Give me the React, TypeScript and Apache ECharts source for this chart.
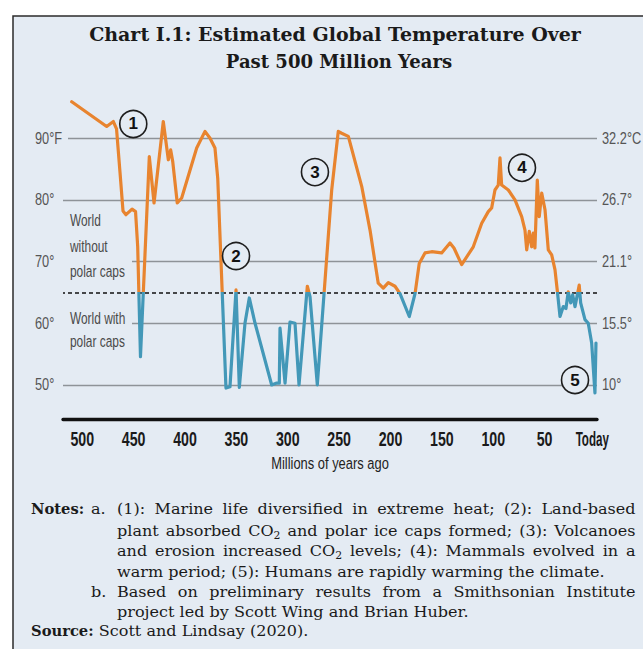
import React, { useEffect, useRef } from "react";
import * as echarts from "echarts";

// ---------- data ----------
const xTickValues = [500, 450, 400, 350, 300, 250, 200, 150, 100, 50, 0];
const fahrenheitTicks = [50, 60, 70, 80, 90];
const fahrenheitLabels = ["50°", "60°", "70°", "80°", "90°F"];
const celsiusLabels = ["10°", "15.5°", "21.1°", "26.7°", "32.2°C"];
const polarCapThresholdF = 65;

// millions of years ago
const myaValues = [
  510.2, 476.2, 469.7, 466.6, 463.2, 460.3, 457.4, 451.5, 448.1, 446.0,
  443.3, 434.7, 430.1, 421.1, 416.2, 413.9, 411.9, 407.5, 403.2, 388.6,
  380.5, 375.6, 370.8, 368.1, 360.1, 356.2, 350.3, 347.1, 341.6, 337.4,
  331.8, 315.6, 310.7, 308.2, 307.5, 302.6, 297.8, 292.9, 289.0, 280.9,
  278.3, 271.2, 257.2, 250.8, 247.5, 241.0, 228.0, 219.9, 211.9, 207.0,
  202.1, 195.6, 190.7, 181.7, 176.1, 172.0, 166.4, 159.9, 150.2, 142.1,
  138.2, 130.7, 119.4, 111.2, 104.8, 101.5, 98.3, 95.1, 93.4, 91.8,
  85.3, 78.8, 72.3, 69.1, 67.4, 64.9, 62.6, 61.0, 59.4, 57.1,
  55.2, 52.8, 49.6, 46.4, 43.1, 39.9, 37.7, 35.0, 31.8, 29.2,
  27.0, 24.6, 22.7, 20.4, 16.3, 14.9, 10.7, 7.5, 4.2, 1.0,
  0.0,
];
// estimated global temperature, °F
const tempF = [
  95.9, 91.9, 92.7, 91.5, 84.4, 78.2, 77.6, 78.5, 78.1, 72.4,
  54.6, 87.0, 79.5, 92.7, 86.5, 88.1, 86.2, 79.5, 80.3, 88.4,
  91.1, 90.0, 88.4, 83.5, 49.5, 49.7, 65.4, 49.6, 60.0, 64.1,
  60.0, 50.0, 50.3, 50.3, 59.2, 50.3, 60.2, 60.0, 50.0, 66.0,
  64.3, 50.0, 81.6, 91.1, 90.8, 90.3, 82.2, 75.1, 66.5, 65.7,
  66.6, 66.0, 64.8, 61.1, 64.8, 69.7, 71.4, 71.6, 71.4, 73.0,
  72.2, 69.5, 72.4, 76.2, 78.1, 78.7, 81.6, 82.4, 86.8, 82.4,
  81.6, 80.0, 77.3, 75.1, 71.9, 74.9, 72.4, 74.6, 72.2, 83.2,
  77.3, 81.1, 78.4, 71.9, 71.1, 68.7, 65.4, 61.1, 62.7, 62.4,
  65.1, 63.3, 64.6, 62.7, 66.2, 63.3, 60.6, 60.0, 56.8, 48.7,
  56.8,
];

const annotationLabels = ["1", "2", "3", "4", "5"];
const annotationMya = [450.3, 350.3, 273.5, 72.0, 20.4];
const annotationTempF = [92.3, 70.9, 84.5, 85.2, 50.8];

const titleLines = [
  "Chart I.1: Estimated Global Temperature Over",
  "Past 500 Million Years",
];
const regionLabelTop = "World\nwithout\npolar caps";
const regionLabelBottom = "World with\npolar caps";
const xAxisName = "Millions of years ago";

const notesA = [
  "(1): Marine life diversified in extreme heat; (2): Land-based",
  "plant absorbed CO_2 and polar ice caps formed; (3): Volcanoes",
  "and erosion increased CO_2 levels; (4): Mammals evolved in a",
  "warm period; (5): Humans are rapidly warming the climate.",
];
const notesB = [
  "Based on preliminary results from a Smithsonian Institute",
  "project led by Scott Wing and Brian Huber.",
];
const sourceText = "Scott and Lindsay (2020).";

// ---------- styles ----------
const BG = "#e4ebf3";
const ORANGE = "#e8842f";
const BLUE = "#4398b8";
const GRID_GRAY = "#8e9398";
const SANS = "'Liberation Sans', Arial, sans-serif";
const SERIF = "'DejaVu Serif', serif";
const NOTE_SIZE = 15.5;
const NOTE_SCALE = 1.035;
const BOLD_SCALE = 0.95;
const SUB_SIZE = 10.5;
const INK = "#1a1a1a";

let measureCtx: CanvasRenderingContext2D | null = null;
function measure(text: string, size: number, bold = false, scale = NOTE_SCALE) {
  if (!measureCtx) measureCtx = document.createElement("canvas").getContext("2d");
  measureCtx!.font = `${bold ? "bold " : ""}${size}px 'DejaVu Serif'`;
  return measureCtx!.measureText(text).width * scale;
}

function wordWidth(w: string) {
  if (w.includes("_")) {
    const [main, sub] = w.split("_");
    return measure(main, NOTE_SIZE) + measure(sub, SUB_SIZE);
  }
  return measure(w, NOTE_SIZE);
}

const noteBase = { fontSize: NOTE_SIZE, fontFamily: SERIF, fill: INK, verticalAlign: "middle", align: "left" };

function noteText(x: number, y: number, style: any, scale = NOTE_SCALE) {
  return { type: "text", x, y, z: 6, silent: true, scaleX: scale, style: { ...noteBase, ...style } };
}

function pushWord(w: string, x: number, y: number, els: any[]) {
  if (w.includes("_")) {
    const [main, sub] = w.split("_");
    els.push(noteText(x, y, { text: main }));
    els.push(noteText(x + measure(main, NOTE_SIZE), y + 5, { fontSize: SUB_SIZE, text: sub }));
  } else {
    els.push(noteText(x, y, { text: w }));
  }
}

function layoutLine(text: string, x0: number, x1: number, y: number, justify: boolean, els: any[]) {
  const words = text.split(" ");
  const widths = words.map(wordWidth);
  const total = widths.reduce((a, b) => a + b, 0);
  const gap = justify && words.length > 1 ? (x1 - x0 - total) / (words.length - 1) : measure(" ", NOTE_SIZE);
  let x = x0;
  words.forEach((w, i) => {
    pushWord(w, x, y, els);
    x += widths[i] + gap;
  });
}

function buildNotes() {
  const els: any[] = [];
  const leadX = 31;
  const markX = 91;
  const textX = 117;
  const rightX = 635.5;
  const baselines = [514, 535.5, 556, 576.5, 596.5, 616.5, 636];
  const mid = (b: number) => b - NOTE_SIZE * 0.346;
  els.push(noteText(leadX, mid(baselines[0]), { fontWeight: "bold", text: "Notes:" }, BOLD_SCALE));
  els.push(noteText(markX, mid(baselines[0]), { text: "a." }));
  notesA.forEach((line, i) => layoutLine(line, textX, rightX, mid(baselines[i]), i < notesA.length - 1, els));
  els.push(noteText(markX, mid(baselines[4]), { text: "b." }));
  notesB.forEach((line, i) => layoutLine(line, textX, rightX, mid(baselines[4 + i]), i < notesB.length - 1, els));
  const srcW = measure("Source:", NOTE_SIZE, true, BOLD_SCALE);
  els.push(noteText(leadX, mid(baselines[6]), { fontWeight: "bold", text: "Source:" }, BOLD_SCALE));
  els.push(noteText(leadX + srcW + measure(" ", NOTE_SIZE), mid(baselines[6]), { text: sourceText }));
  return els;
}

export default function App() {
  const ref = useRef<HTMLDivElement>(null);

  useEffect(() => {
    if (!ref.current) return;
    const chart = echarts.init(ref.current, undefined, { renderer: "svg" });

    const lineData = myaValues.map((t, i) => [t, tempF[i]]);
    const annData = annotationMya.map((t, i) => ({ value: [t, annotationTempF[i]], name: annotationLabels[i] }));

    const yMin = 44.5;
    const yMax = 97;

    chart.setOption({
      animation: false,
      backgroundColor: "#ffffff",
      grid: { left: 63, right: 46, top: 95, bottom: 230.1, containLabel: false },
      xAxis: {
        type: "value", inverse: true, min: -1, max: 518.7, z: 3,
        axisLine: { show: true, lineStyle: { color: "#111", width: 3.3 } },
        axisTick: { show: false },
        splitLine: { show: false },
        axisLabel: { show: false },
      },
      yAxis: [
        {
          type: "value", min: yMin, max: yMax, position: "left", z: 3,
          axisLine: { show: false }, axisTick: { show: false }, splitLine: { show: false },
          axisLabel: { show: false },
        },
        {
          type: "value", min: yMin, max: yMax, position: "right", z: 3,
          axisLine: { show: false }, axisTick: { show: false }, splitLine: { show: false },
          axisLabel: { show: false },
        },
      ],
      visualMap: {
        show: false, type: "piecewise", seriesIndex: 1, dimension: 1,
        pieces: [
          { gt: 20, lte: polarCapThresholdF, color: BLUE },
          { gt: polarCapThresholdF, lte: 120, color: ORANGE },
        ],
      },
      series: [
        {
          type: "line", data: lineData, z: 1, silent: true, symbol: "none", showSymbol: false,
          lineStyle: { opacity: 0, width: 0 },
          markLine: {
            z: 1, silent: true, symbol: ["none", "none"], animation: false,
            label: { show: false },
            data: [
              ...fahrenheitTicks.map((v) => ({ yAxis: v, lineStyle: { color: GRID_GRAY, width: 1.4, type: "solid" } })),
              { yAxis: polarCapThresholdF, lineStyle: { color: "#111", width: 1.5, type: [4, 3] } },
            ],
          },
        },
        {
          type: "line", data: lineData, z: 4, showSymbol: false, symbol: "none",
          lineStyle: { width: 3.2, join: "round", cap: "round" },
          silent: true,
        },
        {
          type: "scatter", data: annData, z: 5, symbol: "circle", symbolSize: 27, silent: true,
          itemStyle: { color: BG, borderColor: "#1e1e1e", borderWidth: 1.6, opacity: 1 },
          label: {
            show: true, position: "inside", formatter: (p: any) => p.name,
            fontFamily: SANS, fontSize: 17, fontWeight: "bold", color: "#111",
          },
        },
      ],
    });

    // condensed tick labels and axis title placed through the axes' scales
    const axisY = chart.convertToPixel({ yAxisIndex: 0 }, yMin) as number;
    const x0 = chart.convertToPixel({ xAxisIndex: 0 }, 518.7) as number;
    const x1 = chart.convertToPixel({ xAxisIndex: 0 }, -1) as number;
    const tickLabels = xTickValues.map((v) => {
      const px = chart.convertToPixel({ xAxisIndex: 0 }, v) as number;
      const isToday = v === 0;
      return {
        type: "text", x: isToday ? px - 3.7 : px, y: axisY + 20, z: 6, silent: true,
        scaleX: isToday ? 0.58 : 0.71,
        style: {
          text: isToday ? "Today" : String(v), fontFamily: SANS, fontSize: 20, fontWeight: "bold",
          fill: INK, align: "center", verticalAlign: "middle",
        },
      };
    });
    const yTickLabels: any[] = [];
    fahrenheitTicks.forEach((v, i) => {
      const py = chart.convertToPixel({ yAxisIndex: 0 }, v) as number;
      const common = { fontFamily: SANS, fontSize: 16, fill: "#555", align: "left", verticalAlign: "middle" };
      yTickLabels.push({ type: "text", x: x0 - 28, y: py, z: 6, silent: true, scaleX: 0.8, style: { ...common, text: fahrenheitLabels[i] } });
      yTickLabels.push({ type: "text", x: x1 + 5, y: py, z: 6, silent: true, scaleX: 0.8, style: { ...common, text: celsiusLabels[i] } });
    });
    const y90 = chart.convertToPixel({ yAxisIndex: 0 }, 90) as number;

    const graphics: any[] = [
      {
        type: "rect", z: 0, silent: true,
        shape: { x: 13, y: 16, width: 660, height: 660 },
        style: { fill: BG, stroke: "#2b2b2b", lineWidth: 1.5 },
      },
      {
        type: "text", x: 335, y: 41 - 19 * 0.346, z: 6,
        style: { text: titleLines[0], fontSize: 19, fontWeight: "bold", fontFamily: SERIF, fill: INK, align: "center", verticalAlign: "middle" },
      },
      {
        type: "text", x: 339, y: 67.5 - 19 * 0.346, z: 6, scaleX: 0.95,
        style: { text: titleLines[1], fontSize: 19, fontWeight: "bold", fontFamily: SERIF, fill: INK, align: "center", verticalAlign: "middle" },
      },
      // covers that interrupt gridlines next to labels
      { type: "rect", z: 2, silent: true, shape: { x: 62, y: y90 - 3, width: 6, height: 6 }, style: { fill: BG } },
      { type: "rect", z: 2, silent: true, shape: { x: 62, y: 205, width: 70, height: 80 }, style: { fill: BG } },
      { type: "rect", z: 2, silent: true, shape: { x: 62, y: 302, width: 70, height: 57 }, style: { fill: BG } },
      {
        type: "text", x: 70, y: 207.7, scaleX: 0.7, z: 3,
        style: { text: regionLabelTop, fontSize: 17, lineHeight: 25.5, fontFamily: SANS, fill: "#4a4a4a", align: "left", verticalAlign: "top" },
      },
      {
        type: "text", x: 70, y: 306.3, scaleX: 0.7, z: 3,
        style: { text: regionLabelBottom, fontSize: 17, lineHeight: 23.5, fontFamily: SANS, fill: "#4a4a4a", align: "left", verticalAlign: "top" },
      },
      ...tickLabels,
      ...yTickLabels,
      {
        type: "text", x: (x0 + x1) / 2, y: axisY + 44, z: 6, silent: true, scaleX: 0.76,
        style: { text: xAxisName, fontFamily: SANS, fontSize: 17, fill: "#222", align: "center", verticalAlign: "middle" },
      },
      ...buildNotes(),
    ];

    chart.setOption({ graphic: { elements: graphics } });

    return () => chart.dispose();
  }, []);

  return <div ref={ref} style={{ position: "fixed", left: 0, top: 0, width: 643, height: 649 }} />;
}
